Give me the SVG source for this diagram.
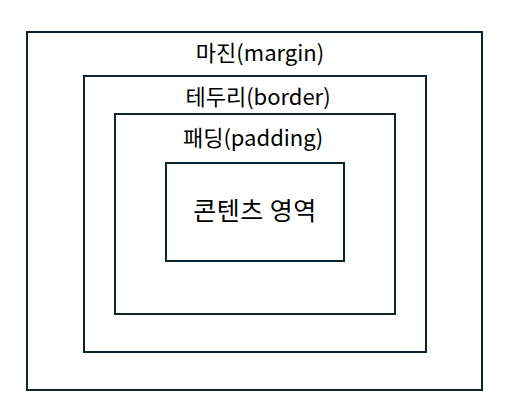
<svg xmlns="http://www.w3.org/2000/svg" width="513" height="408" viewBox="0 0 513 408">
<style>
.box{fill:none;stroke:#0d2430;stroke-width:2}
.lbl{font-family:"Noto Sans CJK KR","Noto Sans",sans-serif;font-size:22px;fill:#000;text-anchor:middle}
.big{font-size:25px}
</style>
<rect width="513" height="408" fill="#fff"/>
<g id="margin"><rect class="box" x="27" y="32" width="455" height="358"/><text class="lbl" x="260" y="61">마진(margin)</text></g>
<g id="border"><rect class="box" x="84" y="76" width="342" height="276"/><text class="lbl" x="258" y="105">테두리(border)</text></g>
<g id="padding"><rect class="box" x="115" y="114" width="280" height="200"/><text class="lbl" x="253" y="146">패딩(padding)</text></g>
<g id="content"><rect class="box" x="166" y="163" width="178" height="98"/><text class="lbl big" x="255" y="220" letter-spacing="0.5">콘텐츠 영역</text></g>
<g id="connectors"/>
</svg>
